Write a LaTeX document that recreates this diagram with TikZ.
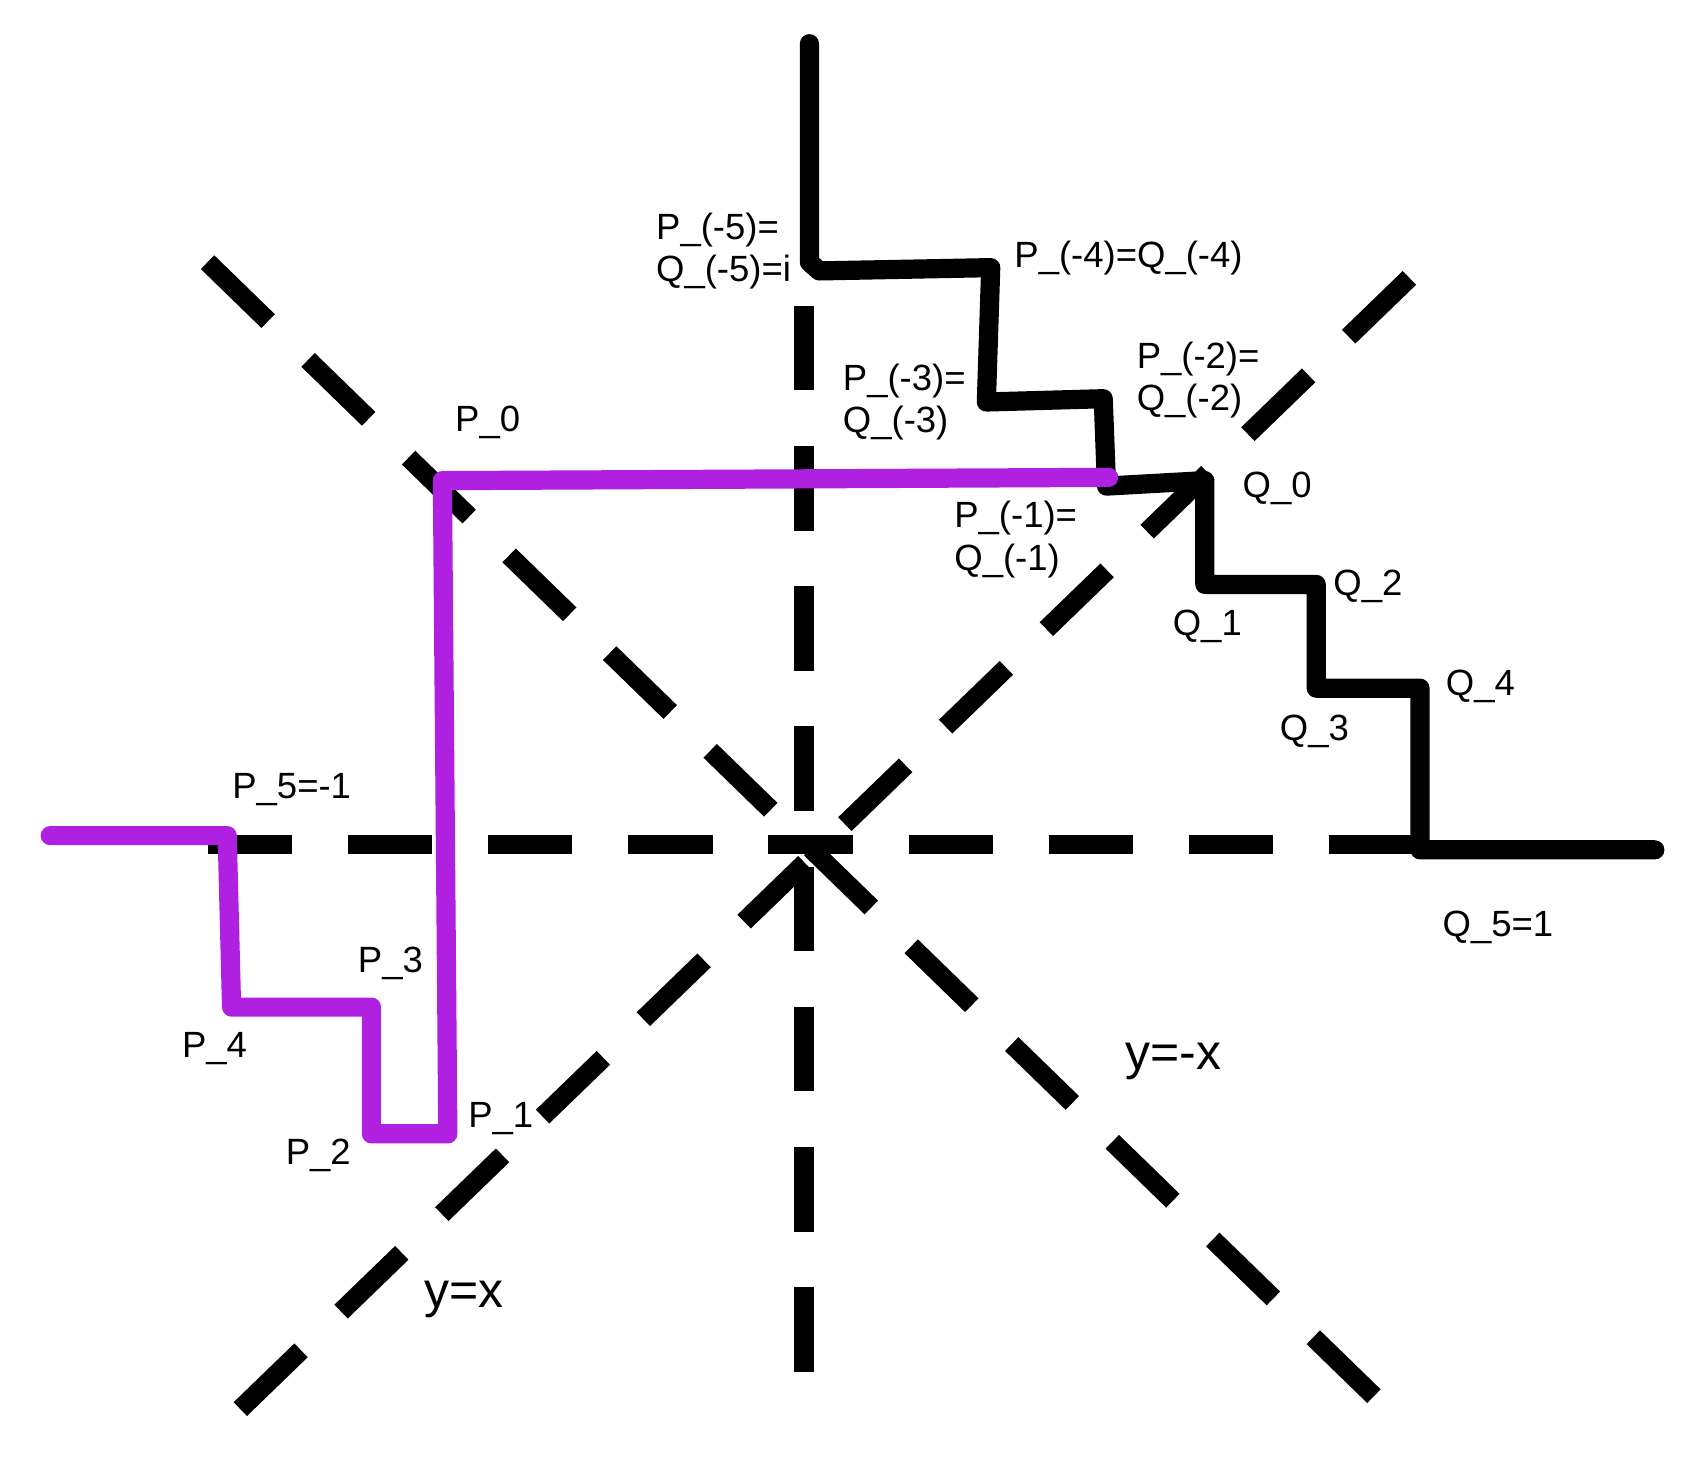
\documentclass[tikz,border=0pt]{standalone}
\usepackage{fontspec}
\setmainfont{Liberation Sans}
\definecolor{purp}{HTML}{B020E0}
\begin{document}
\begin{tikzpicture}[x=0.01cm,y=-0.01cm,
 axisline/.style={line width=5pt,dash pattern=on 22pt off 14.5pt},
 pathline/.style={line width=5pt,line cap=round,line join=round},
 lab/.style={font=\fontsize{9.5}{11}\selectfont,align=left,inner sep=0pt},
 biglab/.style={font=\fontsize{13}{15}\selectfont,inner sep=0pt}]
\useasboundingbox (0,0) rectangle (1560,1347);
% axes
\draw[axisline] (190,773) -- (1300,773);
\draw[axisline] (736,280) -- (736,1260);
\draw[axisline] (190,240) -- (1270,1290);
\draw[axisline] (220,1290) -- (1300,245);
% black path
\draw[pathline] (741,40) -- (741,240) -- (750,248) -- (907,245) -- (903,368) -- (1010,365) -- (1013,445) -- (1103,440) -- (1103,535) -- (1205,535) -- (1205,630) -- (1300,630) -- (1300,778) -- (1515,778);
% purple path
\draw[pathline,purp] (46,765) -- (208,765) -- (212,922) -- (340,922) -- (340,1038) -- (410,1038) -- (405,440) -- (1015,437);
% labels
\node[lab,anchor=west] (pm5) at (600,230) {P\_(-5)=\\Q\_(-5)=i};
\node[lab,anchor=west] (pm4) at (928,236) {P\_(-4)=Q\_(-4)};
\node[lab,anchor=west] (pm3) at (771,368) {P\_(-3)=\\Q\_(-3)};
\node[lab,anchor=west] (pm2) at (1040,348) {P\_(-2)=\\Q\_(-2)};
\node[lab,anchor=west] (pm1) at (873,494) {P\_(-1)=\\Q\_(-1)};
\node[lab,anchor=west] (p0) at (416,387) {P\_0};
\node[lab,anchor=west] (q0) at (1137,447) {Q\_0};
\node[lab,anchor=west] (q1) at (1073,573) {Q\_1};
\node[lab,anchor=west] (q2) at (1220,537) {Q\_2};
\node[lab,anchor=west] (q3) at (1171,670) {Q\_3};
\node[lab,anchor=west] (q4) at (1323,628) {Q\_4};
\node[lab,anchor=west] (q5) at (1320,849) {Q\_5=1};
\node[lab,anchor=west] (p5) at (212,723) {P\_5=-1};
\node[lab,anchor=west] (p3) at (327,882) {P\_3};
\node[lab,anchor=west] (p4) at (166,960) {P\_4};
\node[lab,anchor=west] (p1) at (428,1024) {P\_1};
\node[lab,anchor=west] (p2) at (261,1058) {P\_2};
\node[biglab,anchor=west] (ymx) at (1030,972) {y=-x};
\node[biglab,anchor=west] (yx) at (388,1190) {y=x};
\end{tikzpicture}
\end{document}
